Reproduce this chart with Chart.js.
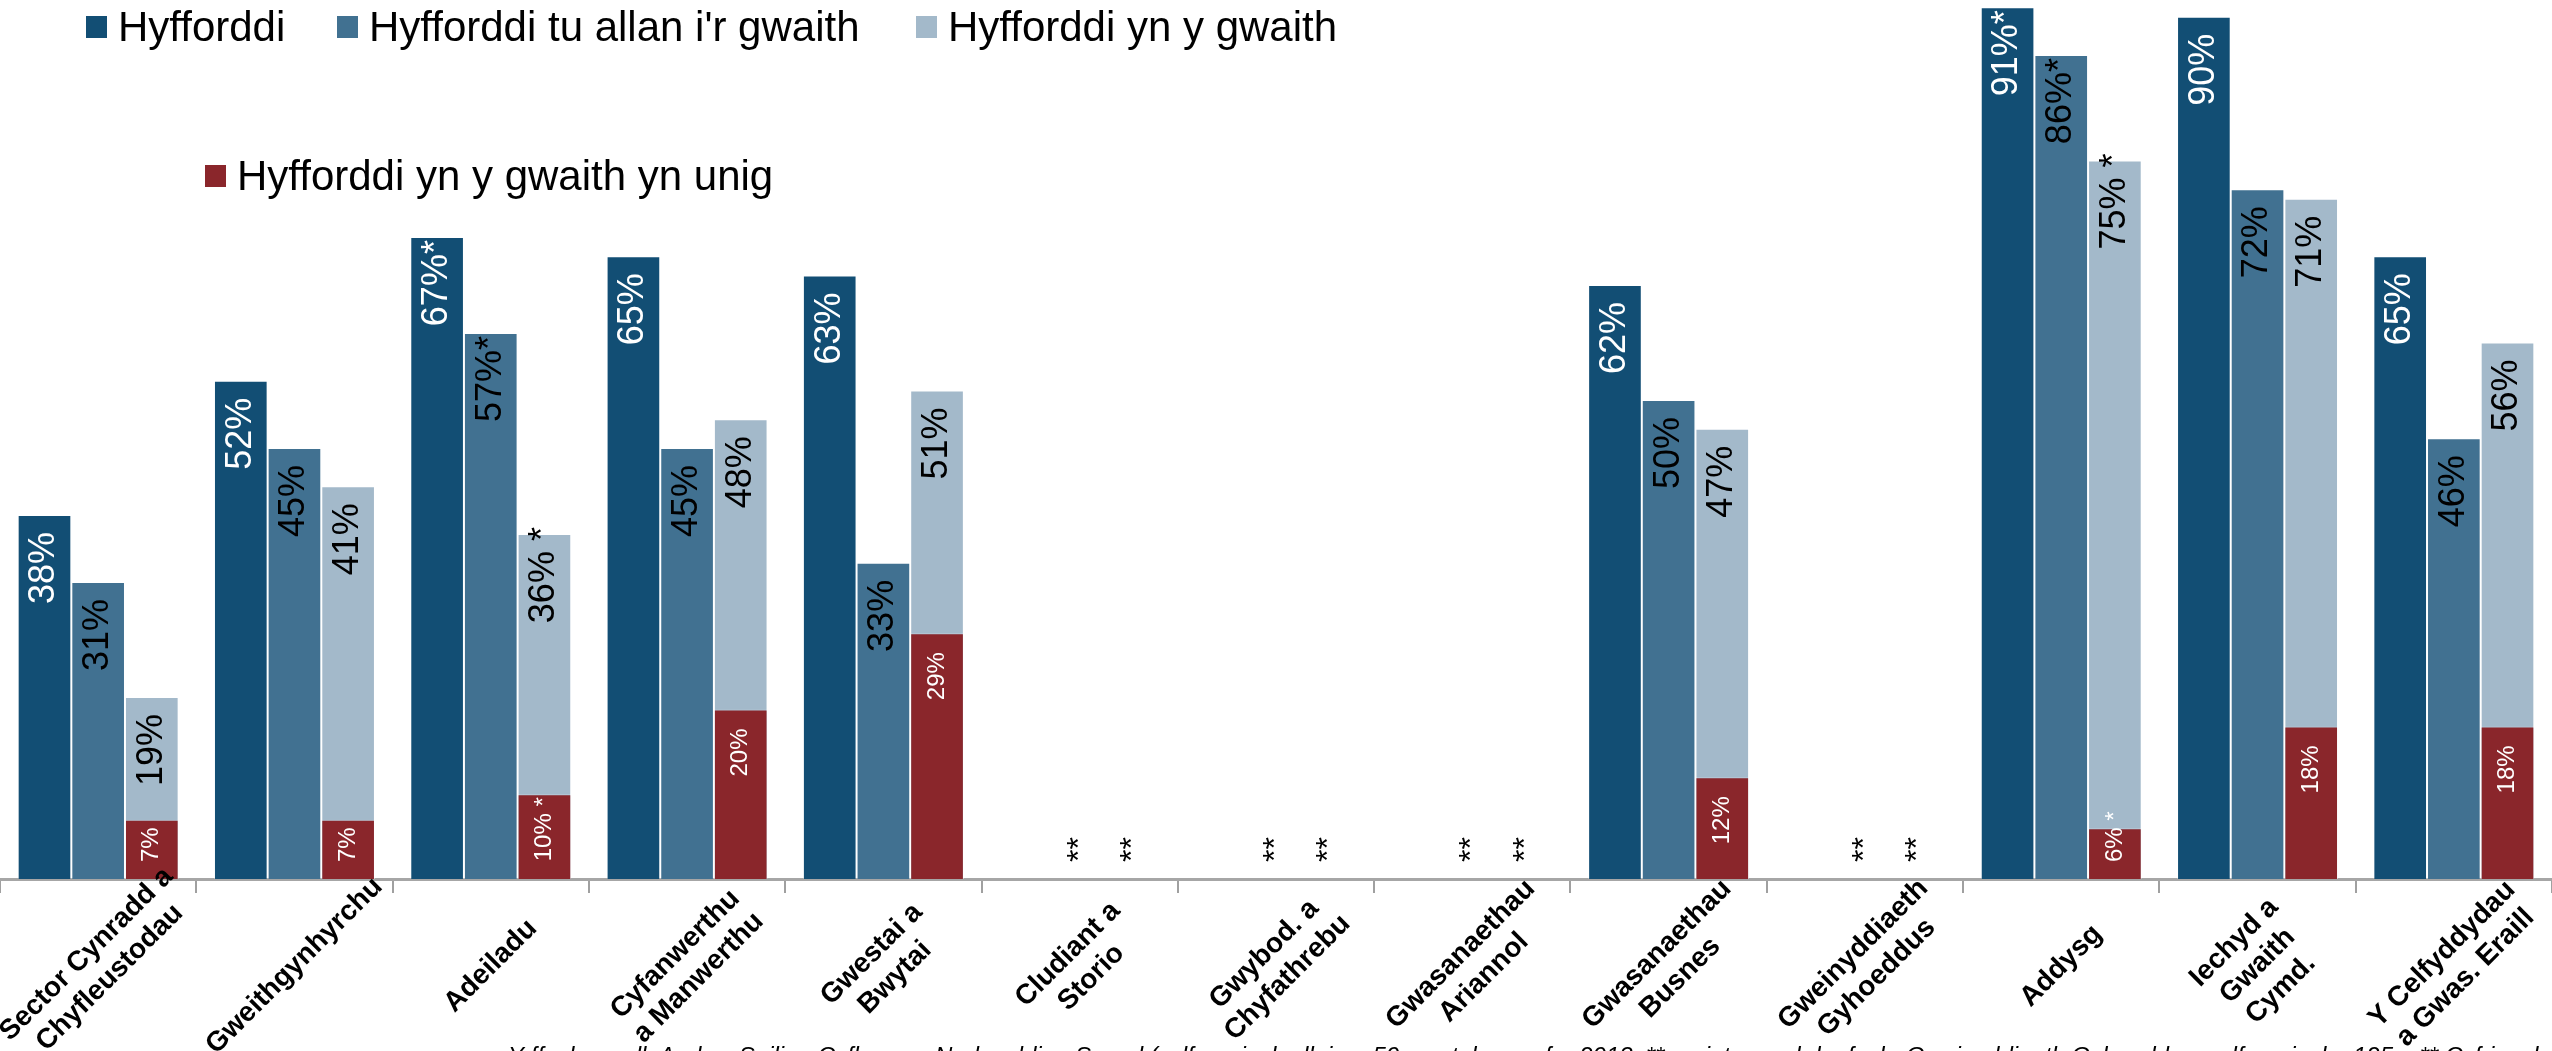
<!DOCTYPE html>
<html>
<head>
<meta charset="utf-8">
<title>Hyfforddi yn ôl sector</title>
<script src="https://cdn.jsdelivr.net/npm/chart.js@4.4.1/dist/chart.umd.min.js"></script>
<style>
  html, body { margin: 0; padding: 0; background: #fff; overflow: hidden; }
  #wrap { position: relative; width: 2552px; height: 1051px; overflow: hidden; }
  #wrap canvas { position: absolute; left: 0; top: 0; }
  .legend-item { position: absolute; display: flex; align-items: center; font-family: "Liberation Sans", Arial, sans-serif; font-size: 42px; line-height: 1; color: #000; white-space: nowrap; }
  .legend-item .box { display: inline-block; width: 21px; height: 22px; margin-right: 11px; }
  #ffynhonnell { position: absolute; left: 508px; top: 1044px; font-family: "Liberation Sans", Arial, sans-serif; font-style: italic; font-size: 24px; line-height: 1; white-space: nowrap; color: #000; }
</style>
</head>
<body>
<div id="wrap">
  <canvas id="siart" width="2552" height="1051"></canvas>
  <div class="legend-item" style="left:86px; top:6px;"><span class="box" style="background:#124e74"></span>Hyfforddi</div>
  <div class="legend-item" style="left:337px; top:6px;"><span class="box" style="background:#417191"></span>Hyfforddi tu allan i'r gwaith</div>
  <div class="legend-item" style="left:916px; top:6px;"><span class="box" style="background:#a3b9ca"></span>Hyfforddi yn y gwaith</div>
  <div class="legend-item" style="left:205px; top:155px;"><span class="box" style="background:#8a262b"></span>Hyfforddi yn y gwaith yn unig</div>
  <div id="ffynhonnell">Y ffynhonnell: Arolwg Sgiliau Cyflogwyr, Nodweddion Sampl (sylfaen isel – llai na 50 ymateb ar gyfer 2013; ** maint sampl rhy fach; Gweinyddiaeth Gyhoeddus: sylfaen isel o 125 – ** Cyfrinachedd neu Maint sampl)</div>
</div>
<script>
// Categories (x axis)
const kategoriau = [
  ["Sector Cynradd a", "Chyfleustodau"],
  "Gweithgynhyrchu",
  "Adeiladu",
  ["Cyfanwerthu", "a Manwerthu"],
  ["Gwestai a", "Bwytai"],
  ["Cludiant a", "Storio"],
  ["Gwybod. a", "Chyfathrebu"],
  ["Gwasanaethau", "Ariannol"],
  ["Gwasanaethau", "Busnes"],
  ["Gweinyddiaeth", "Gyhoeddus"],
  "Addysg",
  ["Iechyd a", "Gwaith", "Cymd."],
  ["Y Celfyddydau", "a Gwas. Eraill"]
];

// Series values (%), null = not shown (**)
const hyfforddi = [38, 52, 67, 65, 63, null, null, null, 62, null, 91, 90, 65];
const tuAllan   = [31, 45, 57, 45, 33, null, null, null, 50, null, 86, 72, 46];
const ynYGwaith = [19, 41, 36, 48, 51, null, null, null, 47, null, 75, 71, 56];
const ynUnig    = [7, 7, 10, 20, 29, null, null, null, 12, null, 6, 18, 18];

// Notes per category: * = low base, ** = too few responses
const nodiadau = ["", "", "*", "", "", "**", "**", "**", "", "**", "*", "", ""];

// Draw the % labels inside the bars (rotated), and the ** markers
const labeliBarrau = {
  id: "labeliBarrau",
  afterDatasetsDraw(chart) {
    const ctx = chart.ctx;
    const sylfaen = chart.scales.y.getPixelForValue(0);
    chart.data.datasets.forEach((ds, d) => {
      const meta = chart.getDatasetMeta(d);
      meta.data.forEach((bar, i) => {
        const v = ds.data[i];
        ctx.save();
        ctx.textAlign = "left";
        ctx.textBaseline = "middle";
        if (v === null) {
          if (ds.dangosColl && nodiadau[i] === "**") {
            ctx.font = '32px "Liberation Sans"';
            ctx.fillStyle = "#000";
            ctx.translate(bar.x, sylfaen - 17);
            ctx.rotate(-Math.PI / 2);
            ctx.fillText("**", 0, 0);
          }
          ctx.restore();
          return;
        }
        const prif = v + "%";
        const ychwanegol = nodiadau[i] === "*" ? ds.gwahanydd + "*" : "";
        ctx.font = ds.maintLabel + 'px "Liberation Sans"';
        ctx.fillStyle = ds.lliwLabel;
        const w = ctx.measureText(prif).width;
        // inside end; if the bar is too short keep it 17px above the base
        const y0 = Math.min(bar.y + ds.bwlchLabel + w, sylfaen - 17);
        ctx.translate(bar.x, y0);
        ctx.rotate(-Math.PI / 2);
        ctx.fillText(prif + ychwanegol, 0, 0);
        ctx.restore();
      });
    });
  }
};

// Category labels: rotated 45deg, block centred under each category
const labeliEchel = {
  id: "labeliEchel",
  afterDraw(chart) {
    const ctx = chart.ctx;
    const x = chart.scales.x;
    const lh = 33;
    ctx.save();
    ctx.font = 'bold 28px "Liberation Sans"';
    ctx.fillStyle = "#000";
    ctx.textAlign = "center";
    ctx.textBaseline = "middle";
    kategoriau.forEach((cat, i) => {
      const llinellau = [].concat(cat);
      ctx.save();
      ctx.translate(x.getPixelForValue(i), x.top + 87);
      ctx.rotate(-Math.PI / 4);
      llinellau.forEach((l, j) => {
        ctx.fillText(l, 0, (j - (llinellau.length - 1) / 2) * lh);
      });
      ctx.restore();
    });
    ctx.restore();
  }
};

const ctx = document.getElementById("siart").getContext("2d");

new Chart(ctx, {
  type: "bar",
  data: {
    labels: kategoriau,
    datasets: [
      {
        label: "Hyfforddi",
        data: hyfforddi,
        backgroundColor: "#124e74",
        stack: "a",
        yAxisID: "y",
        lliwLabel: "#fff", maintLabel: 36, bwlchLabel: 17, gwahanydd: ""
      },
      {
        label: "Hyfforddi tu allan i'r gwaith",
        data: tuAllan,
        backgroundColor: "#417191",
        stack: "b",
        yAxisID: "y",
        lliwLabel: "#000", maintLabel: 36, bwlchLabel: 17, gwahanydd: "",
        dangosColl: true
      },
      {
        label: "Hyfforddi yn y gwaith yn unig",
        data: ynUnig,
        backgroundColor: "#8a262b",
        stack: "c",
        yAxisID: "y2",
        lliwLabel: "#fff", maintLabel: 24, bwlchLabel: 19, gwahanydd: " "
      },
      {
        label: "Hyfforddi yn y gwaith",
        data: ynYGwaith,
        backgroundColor: "#a3b9ca",
        stack: "c",
        yAxisID: "y",
        lliwLabel: "#000", maintLabel: 36, bwlchLabel: 17, gwahanydd: " ",
        dangosColl: true
      }
    ]
  },
  options: {
    responsive: false,
    animation: false,
    layout: { padding: 0 },
    datasets: {
      bar: {
        categoryPercentage: 0.82,
        barPercentage: 1,
        borderWidth: 1,
        borderColor: "rgba(255,255,255,0.3)"
      }
    },
    plugins: {
      legend: { display: false },
      tooltip: { enabled: false }
    },
    scales: {
      x: {
        stacked: true,
        offset: true,
        grid: {
          offset: true,
          drawOnChartArea: false,
          tickLength: 14,
          color: "#a0a0a0",
          lineWidth: 2
        },
        border: { color: "#a6a6a6", width: 3 },
        ticks: { display: false },
        afterFit(scale) {
          scale.height = 1051 - 879;
          scale.paddingLeft = 0;
          scale.paddingRight = 0;
        }
      },
      y: { display: false, stacked: false, min: 0, max: 91.75 },
      y2: { display: false, stacked: false, min: 0, max: 103.7 }
    }
  },
  plugins: [labeliBarrau, labeliEchel]
});
</script>
</body>
</html>
